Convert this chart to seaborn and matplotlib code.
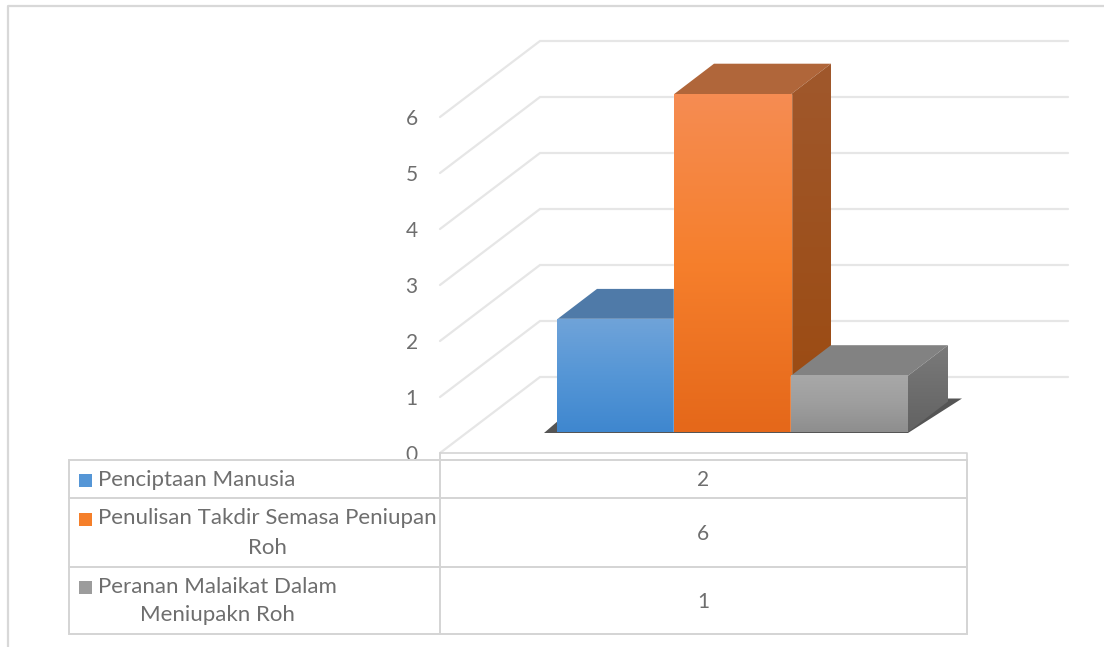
import numpy as np
import pandas as pd
import matplotlib
matplotlib.use("Agg")
import matplotlib.pyplot as plt
from matplotlib.colors import LinearSegmentedColormap
from matplotlib.patches import Polygon, Rectangle
import seaborn as sns

kategori = ["Penciptaan Manusia", "Penulisan Takdir Semasa Peniupan Roh", "Peranan Malaikat Dalam Meniupakn Roh"]
nilai = [2, 6, 1]
tick_y = [0, 1, 2, 3, 4, 5, 6]
warna_utama = ["#5596d6", "#f57f2a", "#9c9c9c"]
warna_atas = ["#4f7aa8", "#b0663a", "#828282"]
gradasi_depan = [("#6fa3d9", "#5596d6", "#3f87cf"), ("#f58c52", "#f67f2c", "#e5681a"), ("#a8a8a8", "#9e9e9e", "#8e8e8e")]
gradasi_sisi = [("#3f6a98", "#2f5a88"), ("#a0582c", "#9b4a10"), ("#7a7a7a", "#626262")]

W, H = 1104, 647
ABU_GARIS = "#e6e6e6"
ABU_TABEL = "#d4d4d4"
ABU_TEKS = "#6e6e6e"

sns.set_theme(style="white")
plt.rcParams["font.family"] = ["Lato", "DejaVu Sans"]


def kotak(x0, y_atas, x1, y_bawah):
    # piksel gambar -> posisi axes
    return [x0 / W, 1 - y_bawah / H, (x1 - x0) / W, (y_bawah - y_atas) / H]


fig = plt.figure(figsize=(W / 100, H / 100), dpi=100, facecolor="white")

# lapisan belakang: bingkai dan dinding grafik
latar = fig.add_axes([0, 0, 1, 1], zorder=0)
latar.set_xlim(0, W)
latar.set_ylim(H, 0)
latar.axis("off")
latar.plot([8, 8, W], [H, 6, 6], color="#d8d8d8", lw=1.6)

for t in tick_y:
    y_belakang = 377 - 56 * t
    y_depan = 453 - 56 * t
    latar.plot([440, 540, 1068], [y_depan, y_belakang, y_belakang], color=ABU_GARIS, lw=1.6,
               solid_joinstyle="miter")

# sumbu dinding kiri, hanya untuk label angka
dinding = fig.add_axes(kotak(440, 117, 968, 453), zorder=1)
dinding.patch.set_alpha(0)
dinding.set_ylim(0, 6)
dinding.set_yticks(tick_y)
dinding.set_xticks([])
dinding.tick_params(axis="y", length=0, pad=16, labelsize=15, labelcolor=ABU_TEKS)
sns.despine(ax=dinding, left=True, bottom=True)

# batang depan
ax = fig.add_axes(kotak(557, 432 - 56.3 * 6, 908, 432), zorder=2)
ax.patch.set_alpha(0)
df = pd.DataFrame({"kategori": kategori, "nilai": nilai})
sns.barplot(data=df, x="kategori", y="nilai", hue="kategori", palette=warna_utama, width=1,
            saturation=1, legend=False, ax=ax)
ax.set_xlim(-0.5, 2.5)
ax.set_ylim(0, 6)
ax.axis("off")
daftar_batang = list(ax.patches)

# kedalaman 3D dalam satuan data
dx = 40 / 117
dy = 30.5 / 56.3
satu_px = 1 / 117


def isi_gradasi(axes, warna, x0, x1, y0, y1, urutan, klip=None):
    cmap = LinearSegmentedColormap.from_list("g", list(warna))
    g = axes.imshow(np.linspace(0, 1, 64).reshape(-1, 1), cmap=cmap, extent=(x0, x1, y0, y1),
                    origin="upper", aspect="auto", zorder=urutan, interpolation="bilinear")
    g.set_clip_box(fig.bbox)
    if klip is not None:
        g.set_clip_path(klip)
    return g


# bayangan lantai
x_kiri = daftar_batang[0].get_x()
x_kanan = daftar_batang[-1].get_x() + daftar_batang[-1].get_width()
ax.add_patch(Polygon([(x_kiri - 13 / 117, -1 / 56.3), (x_kanan, -1 / 56.3),
                      (x_kanan + 54 / 117, dy + 3 / 56.3), (x_kiri + 27 / 117, dy + 3 / 56.3)],
                     closed=True, facecolor="#555555", edgecolor="none", clip_on=False, zorder=1))

for i, batang in enumerate(daftar_batang):
    x0 = batang.get_x()
    x1 = x0 + batang.get_width()
    tinggi = batang.get_height()
    dasar = 3 + 4 * i
    atas = Polygon([(x0, tinggi), (x0 + dx, tinggi + dy), (x1 + dx, tinggi + dy), (x1, tinggi)],
                   closed=True, facecolor=warna_atas[i], edgecolor="none", clip_on=False, zorder=dasar)
    ax.add_patch(atas)
    # sisi dimulai sedikit di bawah muka depan supaya tidak ada celah putih
    sisi = Polygon([(x1 - 2 * satu_px, 0), (x1, 0), (x1 + dx, dy), (x1 + dx, tinggi + dy), (x1, tinggi),
                    (x1 - 2 * satu_px, tinggi)],
                   closed=True, facecolor="none", edgecolor="none", clip_on=False, zorder=dasar)
    ax.add_patch(sisi)
    isi_gradasi(ax, gradasi_sisi[i], x1 - 2 * satu_px, x1 + dx, 0, tinggi + dy, dasar, klip=sisi)
    batang.set_zorder(dasar + 1)
    lebih = satu_px if i < len(daftar_batang) - 1 else 0
    isi_gradasi(ax, gradasi_depan[i], x0, x1 + lebih, 0, tinggi, dasar + 2)
ax.set_xlim(-0.5, 2.5)
ax.set_ylim(0, 6)

# tabel data di depan grafik
tabel = fig.add_axes([0, 0, 1, 1], zorder=3)
tabel.patch.set_alpha(0)
tabel.set_xlim(0, W)
tabel.set_ylim(H, 0)
tabel.axis("off")
tabel.add_patch(Rectangle((69, 460), 898, 174, facecolor="white", edgecolor=ABU_TABEL, lw=1.4))
tabel.plot([440, 967, 967], [453, 453, 460], color=ABU_TABEL, lw=1.2)
tabel.plot([440, 440], [453, 634], color=ABU_TABEL, lw=1.4)
for y in [498, 567]:
    tabel.plot([69, 967], [y, y], color=ABU_TABEL, lw=1.4)

ukuran = 16
baris_y = [480, 534, 602]
kunci_y = [480, 519, 587]
for warna, yk in zip(warna_utama, kunci_y):
    tabel.add_patch(Rectangle((79, yk - 6), 12.5, 12.5, facecolor=warna, edgecolor="none"))
tabel.text(98, 480, "Penciptaan Manusia", color=ABU_TEKS, fontsize=ukuran, va="center")
tabel.text(98, 518, "Penulisan Takdir Semasa Peniupan", color=ABU_TEKS, fontsize=ukuran, va="center")
tabel.text(267, 548, "Roh", color=ABU_TEKS, fontsize=ukuran, va="center", ha="center")
tabel.text(98, 587, "Peranan Malaikat Dalam", color=ABU_TEKS, fontsize=ukuran, va="center")
tabel.text(217, 615, "Meniupakn Roh", color=ABU_TEKS, fontsize=ukuran, va="center", ha="center")
for v, y in zip(nilai, baris_y):
    tabel.text(703, y, str(v), color=ABU_TEKS, fontsize=15, va="center", ha="center")

fig.savefig("out.png", dpi=100)
